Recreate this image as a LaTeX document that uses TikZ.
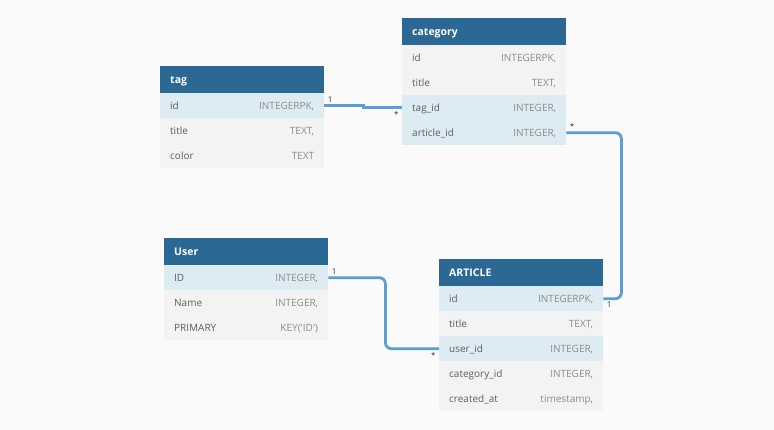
\documentclass[tikz,border=0pt]{standalone}
\usepackage{fontspec}
\setmainfont{Open Sans}
\usetikzlibrary{positioning}
\definecolor{bgpage}{HTML}{FAFAFA}
\definecolor{headblue}{HTML}{2C6894}
\definecolor{keyblue}{HTML}{DDEBF3}
\definecolor{rowgray}{HTML}{F3F3F3}
\definecolor{fieldgray}{HTML}{5E5E5E}
\definecolor{typegray}{HTML}{8C8C8C}
\definecolor{linkblue}{HTML}{5A9FD2}
\tikzset{
  tblhead/.style={fill=headblue, anchor=north west, minimum height=27pt,
    inner xsep=10pt, inner ysep=0pt, text width=144pt, text=white,
    text height=8pt, text depth=0.4pt,
    font=\fontsize{10.5}{12}\selectfont\bfseries},
  tblrow/.style={anchor=north west, minimum height=25pt, inner xsep=10pt,
    inner ysep=0pt, text width=144pt, text=fieldgray,
    text height=7.6pt, text depth=0.4pt,
    font=\fontsize{10}{12}\selectfont},
  keyrow/.style={fill=keyblue},
  plainrow/.style={fill=rowgray},
  rel/.style={draw=linkblue, line width=2.8pt, rounded corners=6pt},
  card/.style={font=\fontsize{8}{9}\selectfont, text=black!80, inner sep=2pt}
}
\begin{document}
\begin{tikzpicture}[x=1pt,y=-1pt]
  \useasboundingbox[fill=bgpage] (0,0) rectangle (774,430);

  % tag
  \node[tblhead] (tag-h) at (160,66) {tag};
  \foreach \fld/\typ/\sty [count=\i] in {id/{INTEGERPK,}/keyrow, title/{TEXT,}/plainrow, color/TEXT/plainrow}
    \node[tblrow,\sty] (tag-\i) at (160,{93+25*(\i-1)}) {\fld\hfill\textcolor{typegray}{\typ}};

  % category
  \node[tblhead] (cat-h) at (402,18) {category};
  \foreach \fld/\typ/\sty [count=\i] in {id/{INTEGERPK,}/plainrow, title/{TEXT,}/plainrow, tag\_id/{INTEGER,}/keyrow, article\_id/{INTEGER,}/keyrow}
    \node[tblrow,\sty] (cat-\i) at (402,{45+25*(\i-1)}) {\fld\hfill\textcolor{typegray}{\typ}};

  % User
  \node[tblhead] (usr-h) at (164,238) {User};
  \foreach \fld/\typ/\sty [count=\i] in {ID/{INTEGER,}/keyrow, Name/{INTEGER,}/plainrow, PRIMARY/{KEY(\textquotesingle ID\textquotesingle)}/plainrow}
    \node[tblrow,\sty] (usr-\i) at (164,{265+25*(\i-1)}) {\fld\hfill\textcolor{typegray}{\typ}};

  % ARTICLE
  \node[tblhead] (art-h) at (439,259) {ARTICLE};
  \foreach \fld/\typ/\sty [count=\i] in {id/{INTEGERPK,}/keyrow, title/{TEXT,}/plainrow, user\_id/{INTEGER,}/keyrow, category\_id/{INTEGER,}/plainrow, created\_at/{timestamp,}/plainrow}
    \node[tblrow,\sty] (art-\i) at (439,{286+25*(\i-1)}) {\fld\hfill\textcolor{typegray}{\typ}};

  % relations
  \draw[rel, rounded corners=0pt] (tag-1.east) node[card, above right] {1}
    -- ++(39,0) |- (cat-3.west) node[card, below left] {*};
  \draw[rel] (cat-4.east) node[card, above right] {*}
    -- ++(55,0) |- (art-1.east) node[card, below right] {1};
  \draw[rel] (usr-1.east) node[card, above right] {1}
    -- ++(57,0) |- (art-3.west) node[card, below left] {*};
\end{tikzpicture}
\end{document}
